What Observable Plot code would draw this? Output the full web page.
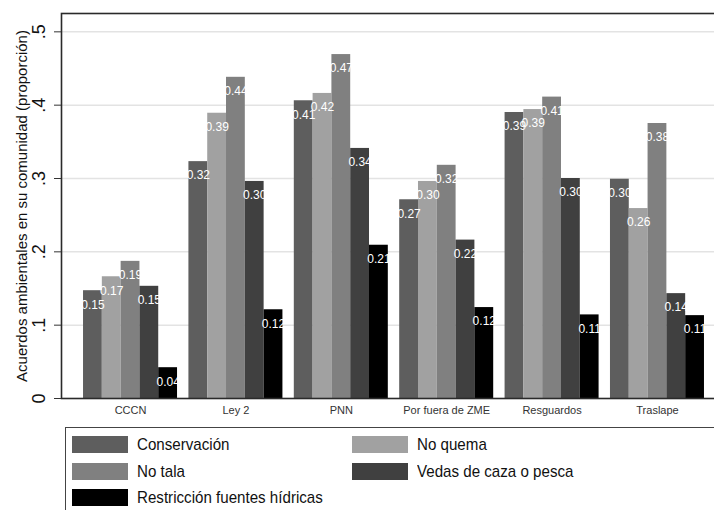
<!DOCTYPE html>
<html><head><meta charset="utf-8">
<script src="https://cdn.jsdelivr.net/npm/d3@7"></script>
<script src="https://cdn.jsdelivr.net/npm/@observablehq/plot@0.6"></script>
<style>
body{margin:0;background:#fff;font-family:"Liberation Sans",Arial,Helvetica,sans-serif;}
#wrap{position:relative;width:714px;height:510px;overflow:hidden;}
#chart{position:absolute;left:0;top:0;width:730px;}
#chart svg{max-width:none !important;width:730px;height:420px;}
#legend{position:absolute;left:65px;top:427px;width:700px;height:120px;border:1.5px solid #444;box-sizing:border-box;}
.item{position:absolute;display:flex;align-items:center;height:17px;}
.sw{width:56px;height:17px;flex:none;}
.lab{margin-left:9px;font-size:17px;color:#111;display:inline-block;transform:scaleX(0.89);transform-origin:left center;white-space:nowrap;}
</style></head><body>
<div id="wrap"><div id="chart"></div><div id="legend"></div></div>
<script>
const groups = ["CCCN", "Ley 2", "PNN", "Por fuera de ZME", "Resguardos", "Traslape"];
const series = ["Conservación", "No quema", "No tala", "Vedas de caza o pesca", "Restricción fuentes hídricas"];
const colors = ["#5e5e5e", "#a1a1a1", "#808080", "#404040", "#000000"];
const conservacion = [0.147, 0.323, 0.406, 0.271, 0.390, 0.299];
const noQuema      = [0.166, 0.389, 0.416, 0.296, 0.394, 0.259];
const noTala       = [0.187, 0.438, 0.469, 0.318, 0.411, 0.375];
const vedas        = [0.153, 0.296, 0.341, 0.216, 0.300, 0.143];
const restriccion  = [0.042, 0.121, 0.209, 0.124, 0.114, 0.113];
const yTicks = [0, 0.1, 0.2, 0.3, 0.4, 0.5];
const yTitle = "Acuerdos ambientales en su comunidad (proporción)";

const seriesValues = [conservacion, noQuema, noTala, vedas, restriccion];
const table = [];
seriesValues.forEach((vals, si) => vals.forEach((v, gi) => table.push({gi, si, group: groups[gi], series: series[si], value: v})));

const barW = 0.1784;
const x1 = d => d.gi - 2.5 * barW + d.si * barW;
const x2 = d => x1(d) + barW;
const xc = d => x1(d) + barW / 2;
const yFmt = d => d === 0 ? "0" : d3.format(".1f")(d).replace(/^0/, "");

const plot = Plot.plot({
  width: 730, height: 420,
  marginLeft: 61, marginRight: 4, marginTop: 13, marginBottom: 22,
  style: {fontFamily: "Liberation Sans, Arial, Helvetica, sans-serif", background: "#fff", maxWidth: "none"},
  x: {domain: [-0.655, 5.655], label: null},
  y: {domain: [0, 0.525], label: null},
  color: {domain: series, range: colors},
  marks: [
    Plot.gridY({ticks: yTicks.filter(t => t > 0), stroke: "#e3e3e3", strokeOpacity: 1, strokeWidth: 1.5}),
    Plot.rectY(table, {x1, x2, y: "value", fill: "series"}),
    Plot.text(table, {x: xc, y: "value", text: d => d.value.toFixed(2), dy: 14, fill: "white", fontSize: 12}),
    Plot.frame({stroke: "#2a2a2a", strokeWidth: 1.6}),
    Plot.axisY({ticks: yTicks, tickSize: 7, tickFormat: () => "", stroke: "#333", label: null}),
    Plot.text(yTicks, {y: d => d, text: yFmt, frameAnchor: "left", textAnchor: "middle", dx: -22, rotate: -90, fontSize: 18, fill: "#111"}),
    Plot.text([yTitle], {frameAnchor: "left", textAnchor: "middle", dx: -39, rotate: -90, fontSize: 15, fill: "#111"}),
    Plot.axisX({ticks: d3.range(groups.length), tickFormat: i => groups[i], tickSize: 0, tickPadding: 8, fontSize: 11, fill: "#333", label: null})
  ]
});
document.getElementById("chart").appendChild(plot);

const legend = document.getElementById("legend");
const pos = [[5.5, 8], [285.5, 8], [5.5, 35], [285.5, 35], [5.5, 61]];
series.forEach((s, i) => {
  const it = document.createElement("div");
  it.className = "item";
  it.style.left = pos[i][0] + "px";
  it.style.top = pos[i][1] + "px";
  const sw = document.createElement("div");
  sw.className = "sw";
  sw.style.background = colors[i];
  const lab = document.createElement("span");
  lab.className = "lab";
  lab.textContent = s;
  it.appendChild(sw); it.appendChild(lab);
  legend.appendChild(it);
});
</script>
</body></html>
